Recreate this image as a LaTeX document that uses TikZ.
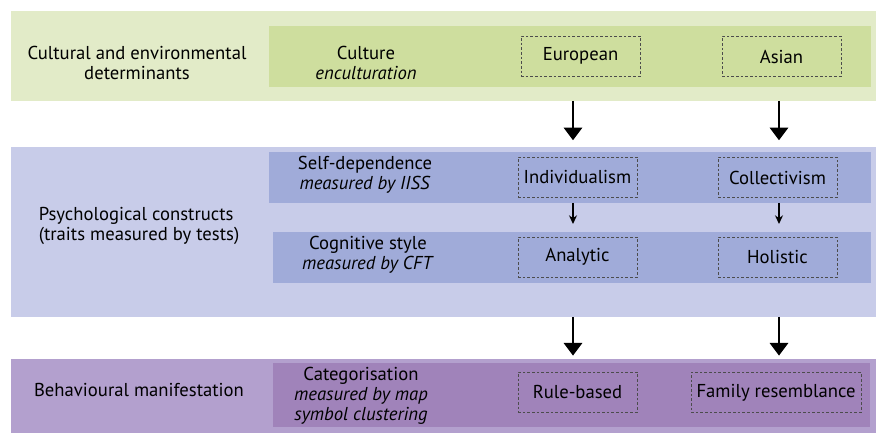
\documentclass[tikz,border=0pt]{standalone}
\usepackage{fontspec}
\setmainfont{PT Sans}
\usetikzlibrary{arrows.meta}
\definecolor{greenout}{HTML}{E2EBC8}
\definecolor{greenin}{HTML}{CEDE9E}
\definecolor{blueout}{HTML}{C8CCE9}
\definecolor{bluein}{HTML}{A0ABD9}
\definecolor{purpleout}{HTML}{B3A0CE}
\definecolor{purplein}{HTML}{A083BA}
\begin{document}
\begin{tikzpicture}[x=0.75pt, y=-0.75pt, font=\fontsize{14}{15.2}\selectfont,
    band/.style = {inner sep=0pt, outer sep=0pt, minimum width=648.75pt},
    row/.style = {inner sep=0pt, outer sep=0pt, minimum height=38.25pt},
    choice/.style = {draw=black!70, dashed, dash pattern=on 2pt off 1.5pt, line width=0.7pt,
        inner sep=0pt, minimum width=89.25pt, minimum height=30pt},
    label/.style = {align=center, inner sep=0pt},
    big/.style = {line width=2.2pt, -{Triangle[width=13.5pt, length=9.5pt]}},
    small/.style = {line width=1pt, -{Stealth[width=6pt, length=6.5pt]}}]
    \useasboundingbox (0,0) rectangle (876,434);

    % Fasce esterne
    \node[band, fill=greenout, minimum height=67.5pt] (cultband) at (443.5,56) {};
    \node[band, fill=blueout, minimum height=127.5pt] (psyband) at (443.5,232) {};
    \node[band, fill=purpleout, minimum height=55.5pt] (behband) at (443.5,396) {};

    % Fasce interne
    \node[row, fill=greenin, minimum width=451.5pt, minimum height=45.75pt] (cultrow) at (570,56.5) {};
    \node[row, fill=bluein, minimum width=451.5pt] (selfrow) at (570,177.5) {};
    \node[row, fill=bluein, minimum width=448.5pt] (cogrow) at (572,257.5) {};
    \node[row, fill=purplein, minimum width=447.75pt, minimum height=48pt] (catrow) at (571.5,395) {};

    % Testi a sinistra
    \node[label] (culttext) at (137,63) {Cultural and environmental\\determinants};
    \node[label, align=left] (psytext) at (139,226) {Psychological constructs\\(traits measured by tests)};
    \node[label] (behtext) at (139,390) {Behavioural manifestation};

    \node[label] (culture) at (366,63) {Culture\\\textit{enculturation}};
    \node[label] (selfdep) at (365,175) {Self-dependence\\\textit{measured by IISS}};
    \node[label] (cogstyle) at (368,255) {Cognitive style\\\textit{measured by CFT}};
    \node[label] (categ) at (361,396) {Categorisation\\\textit{measured by map}\\\textit{symbol clustering}};

    % Riquadri tratteggiati
    \node[choice] (eur) at (580.5,56) {European};
    \node[choice] (asi) at (781.5,56.5) {Asian};
    \node[choice] (ind) at (577.5,177) {Individualism};
    \node[choice] (col) at (777.5,177.5) {Collectivism};
    \node[choice] (ana) at (577.5,257) {Analytic};
    \node[choice] (hol) at (777.5,257.5) {Holistic};
    \node[choice] (rule) at (577.5,392) {Rule-based};
    \node[choice, minimum width=127.5pt] (fam) at (776,392.5) {Family resemblance};

    % Frecce
    \coordinate (lcol) at (573,0);
    \coordinate (rcol) at (779,0);
    \draw[big, shorten >=5pt] (lcol |- cultband.south) -- (lcol |- psyband.north);
    \draw[big, shorten >=5pt] (rcol |- cultband.south) -- (rcol |- psyband.north);
    \draw[small, shorten >=6pt] (lcol |- selfrow.south) -- (lcol |- cogrow.north);
    \draw[small, shorten >=6pt] (rcol |- selfrow.south) -- (rcol |- cogrow.north);
    \draw[big, shorten >=2.5pt] (lcol |- psyband.south) -- (lcol |- behband.north);
    \draw[big, shorten >=2.5pt] (rcol |- psyband.south) -- (rcol |- behband.north);

\end{tikzpicture}
\end{document}
